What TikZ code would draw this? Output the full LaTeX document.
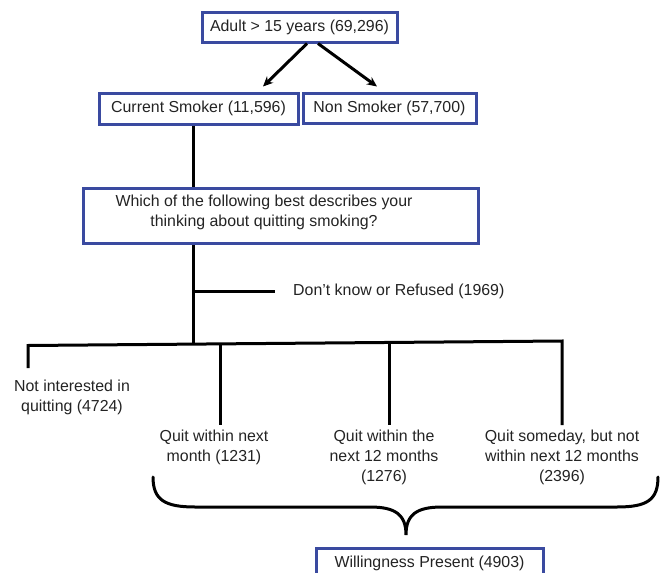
\documentclass[tikz,border=0pt]{standalone}
\usepackage{fontspec}
\setmainfont{Liberation Sans}
\usetikzlibrary{arrows.meta,calc}
\definecolor{boxblue}{RGB}{58,74,160}
\definecolor{txt}{RGB}{35,35,35}
\begin{document}
\begin{tikzpicture}[x=1pt,y=-1pt,
  every node/.style={font=\fontsize{15.9}{20}\selectfont, text=txt},
  bluebox/.style={draw=boxblue, line width=3pt, inner sep=0pt},
  conn/.style={line width=3pt, draw=black},
  arr/.style={conn, -{Stealth[length=10pt,width=9pt]}},
  lbl/.style={align=center, inner sep=0pt}]
\useasboundingbox (0,0) rectangle (662,573);
\clip (0,0) rectangle (662,573);

% boxes
\node[bluebox, minimum width=195pt, minimum height=30pt] (adult) at (299.5,27) {Adult > 15 years (69,296)};
\node[bluebox, minimum width=199pt, minimum height=31pt] (cur) at (198.5,108.5) {Current Smoker (11,596)};
\node[bluebox, minimum width=173pt, minimum height=30pt] (non) at (389.5,108) {Non Smoker (57,700)};
\node[bluebox, minimum width=395pt, minimum height=55pt] (q) at (280.5,216) {};
\node[lbl] (qtext) at (264,212) {Which of the following best describes your\\thinking about quitting smoking?};
\node[bluebox, minimum width=227pt, minimum height=30pt] (will) at (429.5,563) {Willingness Present (4903)};

% labels
\node[lbl, anchor=west] (dk) at (293,291) {Don’t know or Refused (1969)};
\node[lbl] (ni) at (72,397) {Not interested in\\quitting (4724)};
\node[lbl] (q1) at (214,447) {Quit within next\\month (1231)};
\node[lbl] (q2) at (384,457) {Quit within the\\next 12 months\\(1276)};
\node[lbl] (q3) at (562,457) {Quit someday, but not\\within next 12 months\\(2396)};

% coordinates
\coordinate (trunk) at (193,291);
\coordinate (dkend) at (275,291);
\coordinate (hj) at (193,344.1);
\coordinate (hl) at (28,345.5);
\coordinate (hr) at (562,341);
\coordinate (j1) at (220,343.9);
\coordinate (j2) at (389,342.5);
\coordinate (e0) at (28,368);
\coordinate (e1) at (220,425);
\coordinate (e2) at (389,425);
\coordinate (e3) at (562,425);

% arrows
\draw[arr] ($(adult.south)+(7.5,0)$) -- ($(cur.north)+(64.5,-5)$);
\draw[arr] ($(adult.south)+(18.5,0)$) -- ($(non.north)+(-12.5,-5)$);

% trunk
\draw[conn] (cur.south -| trunk) -- (q.north -| trunk);
\draw[conn] (q.south -| trunk) -- (hj);
\draw[conn] (trunk) -- (dkend);

% branches
\draw[conn, line join=miter] (e0) -- (hl) -- (hr) -- (e3);
\draw[conn] (j1) -- (e1);
\draw[conn] (j2) -- (e2);

% brace
\coordinate (bl) at (153,477);
\coordinate (br) at (658,477);
\coordinate (bc) at (406,535);
\draw[conn, line cap=round] (bl) .. controls (153,500) and (165,507) .. (195,507) -- (370,507)
  .. controls (396,507) and (406,515) .. (bc)
  .. controls (406,515) and (416,507) .. (442,507) -- (617,507)
  .. controls (647,507) and (658,500) .. (br);
\end{tikzpicture}
\end{document}
